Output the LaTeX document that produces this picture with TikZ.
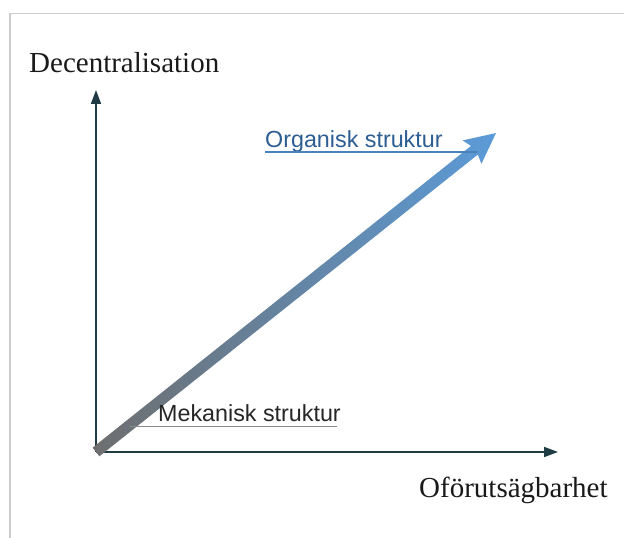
\documentclass[tikz,border=0pt]{standalone}
\usepackage{fontspec}
\setmainfont{Liberation Serif}
\newfontfamily\arialfont{Liberation Sans}
\usetikzlibrary{arrows.meta}
\definecolor{axiscol}{HTML}{1F3C44}
\definecolor{framecol}{HTML}{CCCCCC}
\definecolor{bandgray}{HTML}{6E6E6E}
\definecolor{bandmid}{HTML}{7A8CA2}
\definecolor{bandblue}{HTML}{5B9BD8}
\definecolor{orgtext}{HTML}{2C5D93}
\definecolor{orgline}{HTML}{4A82BE}
\definecolor{mekline}{HTML}{8A8A8A}
\tikzset{
  axis/.style={draw=axiscol, line width=1.6pt, -{Triangle[length=14pt,width=10pt]}},
  serifbig/.style={font=\fontsize{29}{32}\selectfont, inner sep=0pt, anchor=base west, text=black!90},
  sanslabel/.style={font=\arialfont\fontsize{23.3}{26}\selectfont, inner sep=0pt, anchor=base west},
  frameline/.style={draw=framecol, line width=1.5pt}
}
\begin{document}
\begin{tikzpicture}[x=1pt,y=1pt]
\useasboundingbox (0,0) rectangle (624,538);
% frame
\coordinate (fTR) at (624,524.5);
\coordinate (fTL) at (10,524.5);
\coordinate (fBL) at (10,0);
\draw[frameline] (fTR) -- (fTL) -- (fBL);
% axes
\coordinate (O) at (96,86);
\coordinate (Ytop) at (96,448);
\coordinate (Xend) at (558,86);
\draw[axis] (O) -- (Ytop);
\draw[axis] (O) -- (Xend);
% gradient diagonal arrow
\begin{scope}[shift={(O)}, rotate=38.57]
  \shade[left color=bandgray, middle color=bandmid, right color=bandblue]
    (0,-5.5) -- (484,-5.5) -- (481,-15) -- (511.6,0) -- (481,15) -- (484,5.5) -- (0,5.5) -- cycle;
\end{scope}
% labels
\node[serifbig] (ylab) at (29,465) {Decentralisation};
\node[serifbig] (xlab) at (419,40) {Oförutsägbarhet};
\node[sanslabel, text=orgtext] (org) at (265,390) {Organisk struktur};
\coordinate (orgEnd) at (477,386);
\draw[orgline, line width=1.3pt] (org.base west |- orgEnd) -- (orgEnd);
\node[sanslabel, text=black!85] (mek) at (158,116.5) {Mekanisk struktur};
\coordinate (mekStart) at (130,111.5);
\coordinate (mekEnd) at (337,111.5);
\draw[mekline, line width=1.3pt] (mekStart) -- (mekEnd);
\end{tikzpicture}
\end{document}
